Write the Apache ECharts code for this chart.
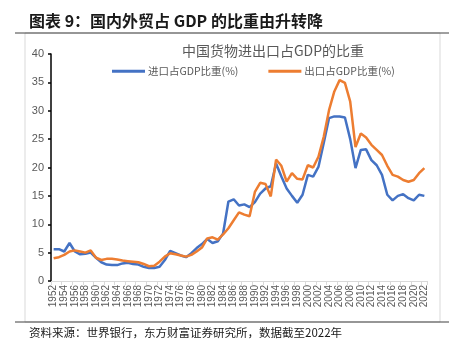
<!DOCTYPE html>
<html>
<head>
<meta charset="utf-8">
<script src="https://cdn.jsdelivr.net/npm/echarts@6/dist/echarts.min.js"></script>
<style>
  html, body { margin: 0; padding: 0; background: #fff; }
  #chart { width: 461px; height: 346px; }
</style>
</head>
<body>
<div id="chart"></div>
<script>
// Years 1952–2022
const years = [];
for (let y = 1952; y <= 2022; y++) years.push(String(y));

// 进口占GDP比重(%)
const importShare = [
  5.6, 5.6, 5.2, 6.7, 5.2, 4.7, 4.8, 5.0, 4.1, 3.3,
  2.9, 2.8, 2.8, 3.1, 3.2, 3.0, 2.9, 2.5, 2.3, 2.3,
  2.5, 3.7, 5.3, 4.9, 4.5, 4.2, 4.9, 5.8, 6.5, 7.4,
  6.7, 7.0, 8.4, 14.0, 14.4, 13.3, 13.5, 13.0, 13.9, 15.4,
  16.3, 16.7, 20.7, 18.4, 16.3, 15.0, 13.8, 15.2, 18.7, 18.4,
  20.1, 24.3, 28.7, 29.0, 29.0, 28.8, 25.0, 19.9, 23.1, 23.2,
  21.3, 20.4, 18.7, 15.2, 14.2, 15.0, 15.3, 14.6, 14.2, 15.2,
  15.0
];

// 出口占GDP比重(%)
const exportShare = [
  4.0, 4.2, 4.6, 5.2, 5.4, 5.2, 5.0, 5.4, 4.1, 3.7,
  3.9, 3.9, 3.8, 3.6, 3.5, 3.4, 3.3, 3.0, 2.6, 2.7,
  3.4, 4.3, 4.9, 4.7, 4.5, 4.3, 4.6, 5.2, 5.9, 7.5,
  7.7, 7.3, 8.2, 9.3, 10.7, 12.1, 11.7, 11.4, 15.7, 17.3,
  17.1, 14.9, 21.4, 20.3, 17.5, 19.0, 18.0, 17.9, 20.4, 20.0,
  21.9, 25.4, 30.1, 33.4, 35.4, 34.9, 31.6, 23.6, 26.0, 25.3,
  24.0, 23.1, 22.2, 20.3, 18.7, 18.4, 17.8, 17.5, 17.8, 19.0,
  19.9
];

const yTicks = { min: 0, max: 40, interval: 5 };

const chart = echarts.init(document.getElementById('chart'), null, { renderer: 'canvas' });

const grey = '#595959';

chart.setOption({
  animation: false,
  backgroundColor: '#fff',
  title: [
    {
      text: '图表 9：国内外贸占 GDP 的比重由升转降',
      left: 24, top: 8,
      textStyle: { fontFamily: 'Noto Sans CJK SC', fontSize: 16, fontWeight: 'bold', color: '#1a1a1a' }
    },
    {
      text: '中国货物进出口占GDP的比重',
      left: 268, top: 39, textAlign: 'center',
      textStyle: { fontFamily: 'Noto Sans CJK SC', fontSize: 14, fontWeight: 'normal', color: grey }
    },
    {
      text: '资料来源：世界银行，东方财富证券研究所，数据截至2022年',
      left: 24, top: 322,
      textStyle: { fontFamily: 'Noto Sans CJK SC', fontSize: 11.5, fontWeight: 'normal', color: '#1a1a1a' }
    }
  ],
  graphic: [
    { type: 'rect', shape: { x: 25, y: 33, width: 415, height: 289 }, style: { fill: 'none', stroke: '#d9d9d9', lineWidth: 1 }, z: -1 },
    { type: 'line', shape: { x1: 15, y1: 33, x2: 449, y2: 33 }, style: { stroke: '#404040', lineWidth: 1 } },
    { type: 'line', shape: { x1: 15, y1: 322, x2: 449, y2: 322 }, style: { stroke: '#404040', lineWidth: 1 } }
  ],
  legend: {
    left: 112, top: 66, padding: 0,
    itemWidth: 33, itemHeight: 3, itemGap: 30,
    icon: 'rect',
    textStyle: { fontFamily: 'Noto Sans CJK SC', fontSize: 10.5, color: grey, padding: [0, 0, 0, -2] },
    data: ['进口占GDP比重(%)', '出口占GDP比重(%)']
  },
  grid: { left: 51, right: 34, top: 54, bottom: 65, containLabel: false },
  xAxis: {
    type: 'category',
    data: years,
    boundaryGap: true,
    axisLine: { lineStyle: { color: '#d9d9d9', width: 1 } },
    axisTick: { show: true, interval: 1, length: 4, lineStyle: { color: '#d9d9d9' } },
    axisLabel: {
      interval: 1, rotate: 90, margin: 4,
      fontFamily: 'Liberation Sans', fontSize: 10, color: grey
    },
    splitLine: { show: false }
  },
  yAxis: {
    type: 'value',
    min: yTicks.min, max: yTicks.max, interval: yTicks.interval,
    axisLine: { show: true, lineStyle: { color: '#000', width: 1.5 } },
    axisTick: { show: true, inside: false, length: 3, lineStyle: { color: '#000', width: 1.5 } },
    axisLabel: { margin: 7, fontFamily: 'Liberation Sans', fontSize: 11, color: grey },
    splitLine: { show: false }
  },
  series: [
    {
      name: '进口占GDP比重(%)', type: 'line', data: importShare,
      symbol: 'none', lineStyle: { color: '#4472C4', width: 2.5 }, itemStyle: { color: '#4472C4' }
    },
    {
      name: '出口占GDP比重(%)', type: 'line', data: exportShare,
      symbol: 'none', lineStyle: { color: '#ED7D31', width: 2.5 }, itemStyle: { color: '#ED7D31' }
    }
  ]
});
</script>
</body>
</html>
